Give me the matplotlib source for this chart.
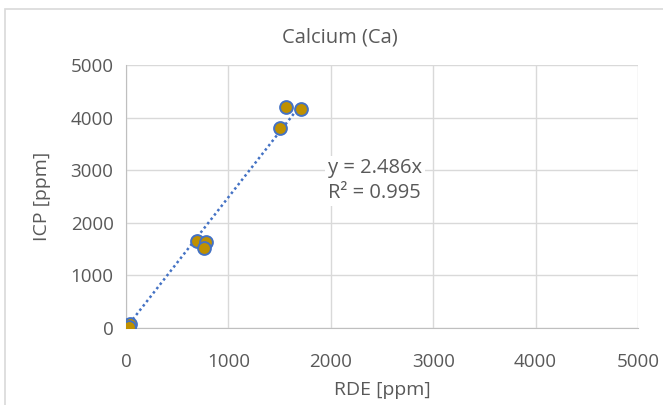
import numpy as np
import matplotlib.pyplot as plt
from matplotlib.patches import Rectangle

# RDE vs ICP calcium readings (ppm)
rde_ppm = [0, 8, 15, 22, 30, 38, 25, 690, 778, 759, 1507, 1560, 1709]
icp_ppm = [0, 10, 25, 40, 55, 70, 20, 1660, 1641, 1515, 3808, 4207, 4163]
slope = 2.486
r_squared = 0.995
ticks = [0, 1000, 2000, 3000, 4000, 5000]

plt.rcParams['font.family'] = ['Open Sans', 'DejaVu Sans']
text_color = '#595959'

fig = plt.figure(figsize=(6.63, 4.05), dpi=100)
ax = fig.add_axes([126 / 663, 1 - 328 / 405, 512 / 663, 263 / 405])

# chart frame, cropped at right and bottom like the source
fig.patches.append(Rectangle((5 / 663, -0.1), 1.2, 1 - 9 / 405 + 0.1,
                             transform=fig.transFigure, fill=False,
                             edgecolor='#D9D9D9', linewidth=1.2))

x = np.array(rde_ppm, dtype=float)
y = np.array(icp_ppm, dtype=float)

# trendline through origin
fit_x = np.array([0, x.max()])
ax.plot(fit_x, slope * fit_x, linestyle=(0, (1, 1.2)), color='#4472C4',
        linewidth=1.8, zorder=3)
ax.scatter(x, y, s=85, color='#BF9000', edgecolors='#4472C4',
           linewidths=1.4, zorder=4)

ax.set_xlim(0, 5000)
ax.set_ylim(0, 5000)
ax.set_xticks(ticks)
ax.set_yticks(ticks)
ax.grid(True, color='#D9D9D9', linewidth=1)
ax.set_axisbelow(True)
for side in ['top', 'right']:
    ax.spines[side].set_visible(False)
for side in ['left', 'bottom']:
    ax.spines[side].set_color('#BFBFBF')
ax.tick_params(length=0, labelsize=13.5, labelcolor=text_color)
ax.tick_params(axis='x', pad=18)
ax.tick_params(axis='y', pad=9)

# title is centred on the whole chart area, not the plot area
fig.text(340 / 663, 1 - 38 / 405, 'Calcium (Ca)', fontsize=14.5,
         color=text_color, ha='center', va='center')
ax.set_xlabel('RDE [ppm]', fontsize=14, color=text_color, labelpad=7)
ax.set_ylabel('ICP [ppm]', fontsize=14, color=text_color, labelpad=14)

ax.text(2430, 2800, f'y = {slope}x\nR² = {r_squared}', fontsize=14.5,
        color=text_color, ha='center', va='center', linespacing=1.3,
        bbox=dict(facecolor='white', edgecolor='none', pad=2), zorder=5)

fig.savefig('out.png', dpi=100)
